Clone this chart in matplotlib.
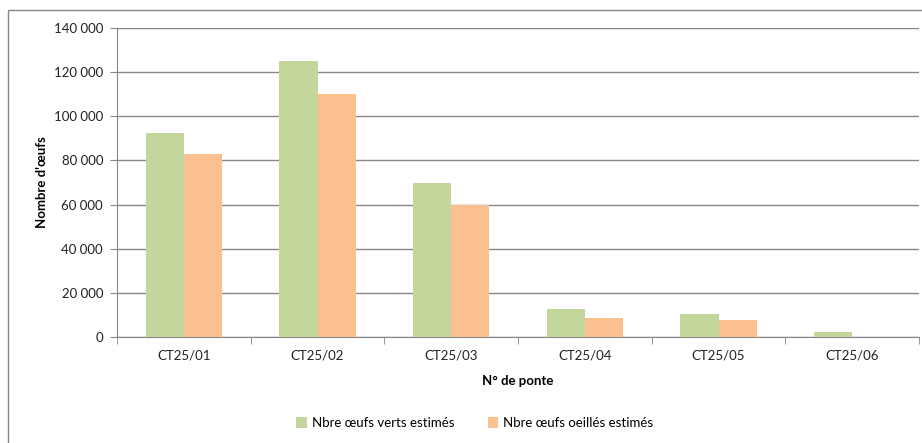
import numpy as np
import matplotlib.pyplot as plt
from matplotlib.patches import Rectangle
from matplotlib.ticker import FuncFormatter, MultipleLocator

plt.rcParams['font.family'] = ['Lato', 'DejaVu Sans']

pontes = ["CT25/01", "CT25/02", "CT25/03", "CT25/04", "CT25/05", "CT25/06"]
oeufs_verts = [92500, 125000, 70000, 12500, 10300, 2100]
oeufs_oeilles = [83000, 110000, 60000, 8500, 7500, 0]

green = "#C3D69B"
orange = "#FAC090"
grey = "#868686"

fig = plt.figure(figsize=(9.22, 4.43), dpi=100)
ax = fig.add_axes([117 / 922, 1 - 337 / 443, 802 / 922, 309 / 443])

# frame around the whole chart area
fig.patches.append(Rectangle((8 / 922, -0.1), 1.2, 1 - 10 / 443 + 0.1,
                             transform=fig.transFigure, fill=False,
                             edgecolor=grey, linewidth=1.0))

x = np.arange(len(pontes))
w = 0.285
ax.bar(x - w / 2, oeufs_verts, w, color=green, label="Nbre œufs verts estimés", zorder=3)
ax.bar(x + w / 2, oeufs_oeilles, w, color=orange, label="Nbre œufs oeillés estimés", zorder=3)

ax.set_xlim(-0.5, len(pontes) - 0.5)
ax.set_ylim(0, 140000)
ax.yaxis.set_major_locator(MultipleLocator(20000))
ax.yaxis.set_major_formatter(FuncFormatter(lambda v, p: f"{int(v):,}".replace(",", " ")))
ax.grid(axis="y", color=grey, linewidth=1.0, zorder=0)

ax.set_xticks(x)
ax.set_xticklabels(pontes)
ax.set_xticks(np.arange(-0.5, len(pontes)), minor=True)
ax.tick_params(axis="x", which="major", length=0, pad=9, labelsize=9.5)
ax.tick_params(axis="x", which="minor", length=5, color=grey, direction="out")
ax.tick_params(axis="y", length=5, color=grey, labelsize=9.5, pad=5)
for lbl in ax.get_yticklabels() + ax.get_xticklabels():
    lbl.set_color("#222222")

for side in ["top", "right"]:
    ax.spines[side].set_visible(False)
ax.spines["left"].set_color(grey)
ax.spines["bottom"].set_color(grey)

ax.set_xlabel("N° de ponte", fontsize=9.5, fontweight="bold", labelpad=10)
ax.set_ylabel("Nombre d'œufs", fontsize=9.5, fontweight="bold", labelpad=4)

fig.legend(loc="center", bbox_to_anchor=(0.515, 0.045), ncol=2, frameon=False,
           fontsize=9.5, handlelength=0.8, handleheight=0.8, columnspacing=2.5,
           handletextpad=0.4)

fig.savefig("out.png", dpi=100)
